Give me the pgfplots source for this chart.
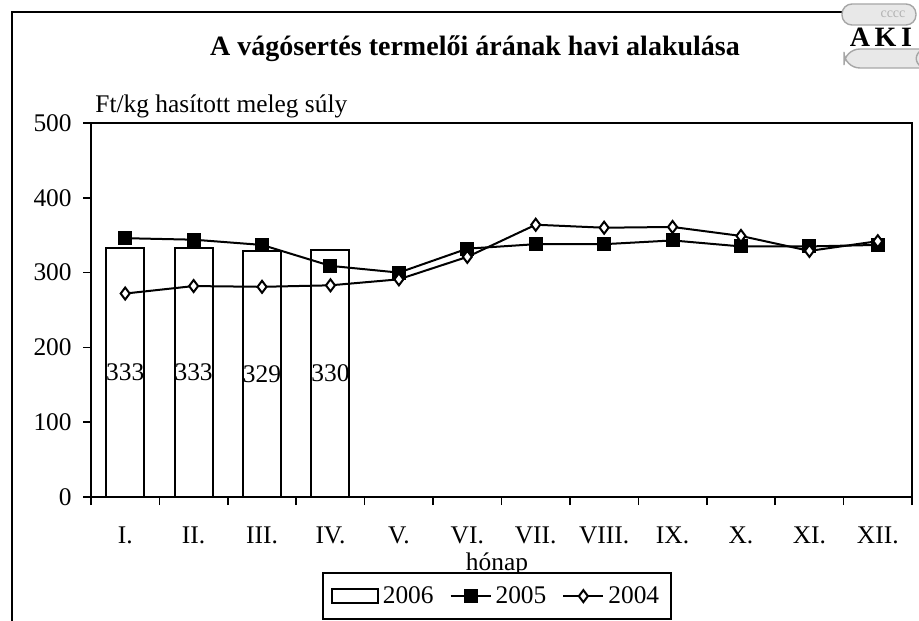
\documentclass[border=0pt]{standalone}
\usepackage{fontspec}
\setmainfont{Liberation Serif}
\usepackage{pgfplots}
\pgfplotsset{compat=1.18}
\pgfplotsset{
  short line legend/.style={legend image code/.code={%
    \draw[mark repeat=2, mark phase=2, ##1] plot coordinates {(0bp,0bp) (10bp,0bp) (20bp,0bp)};}},
  box legend/.style={legend image code/.code={%
    \draw[line width=1bp, fill=white] (0bp,-3.5bp) rectangle (23bp,3.5bp);}},
}

\newcommand{\txt}{\fontsize{12.7bp}{14.5bp}\selectfont}

\begin{document}
\begin{tikzpicture}
\useasboundingbox (0,0) rectangle (459.5bp,310.5bp);
\fill[white] (0,0) rectangle (459.5bp,310.5bp);
% outer frame (cut off at right and bottom)
\draw[line width=1.2bp] (6bp,-5bp) -- (6bp,304.5bp) -- (421bp,304.5bp);

% logo, in pixel units
\begin{scope}[shift={(0,310.5bp)}, x=0.5bp, y=-0.5bp]
  \draw[gray!70, fill=gray!18, line width=0.7bp, rounded corners=5bp]
    (842,4) -- (916,4) -- (916,25) -- (842,25) -- cycle;
  \node[gray!60, font=\fontsize{7bp}{7bp}\selectfont] at (893,14) {cccc};
  \node[font=\fontsize{14bp}{14bp}\selectfont\bfseries] at (881,37) {A\,K\,I};
  \draw[gray!70, fill=gray!18, line width=0.7bp, rounded corners=8bp]
    (930,49) -- (844,49) -- (844,68) -- (930,68);
  \draw[gray!70, line width=0.7bp] (923,49) .. controls (914,54) and (914,63) .. (923,68);
\end{scope}

\node[anchor=base, font=\fontsize{14bp}{16bp}\selectfont\bfseries]
  at (237.5bp,282.75bp) {A vágósertés termelői árának havi alakulása};
\node[anchor=base west, font=\txt, inner sep=0pt]
  at (47.5bp,254bp) {Ft/kg hasított meleg súly};

\begin{axis}[
  at={(45.5bp,62bp)}, anchor=south west,
  scale only axis, width=410.5bp, height=187bp,
  xmin=-0.5, xmax=11.5, ymin=0, ymax=500,
  xtick={0,...,11},
  xticklabels={I.,II.,III.,IV.,V.,VI.,VII.,VIII.,IX.,X.,XI.,XII.},
  minor xtick={-0.5,0.5,...,11.5},
  ytick={0,100,...,500},
  tick pos=left, tick align=outside,
  major tick length=4bp, minor tick length=4bp,
  tick style={black, line width=0.8bp},
  major x tick style={draw=none},
  axis line style={line width=1bp},
  xticklabel style={anchor=base, yshift=-19bp, font=\txt},
  yticklabel style={anchor=east, inner sep=0pt, xshift=-5.5bp, font=\txt},
  /pgf/number format/assume math mode=true,
  xlabel={hónap},
  xlabel style={at={(axis description cs:0.4945,0)}, anchor=base, yshift=-36.5bp, font=\txt},
  legend columns=3,
  legend style={at={(0.4945,-0.265)}, anchor=center, draw=black, line width=1bp,
    font=\txt, inner xsep=4bp, inner ysep=4.5bp,
    /tikz/every even column/.append style={column sep=6bp}},
]
\addplot[ybar, bar width=19bp, bar shift=0pt, fill=white, draw=black, line width=1bp,
  nodes near coords,
  visualization depends on={rawy \as \ry},
  every node near coord/.append style={anchor=center, yshift=-\ry*0.187bp, font=\txt, text=black},
  box legend]
  coordinates {(0,333) (1,333) (2,329) (3,330)};
\addlegendentry{2006}

\addplot[black, line width=1bp, mark=square*, mark size=3bp, mark options={solid, fill=black},
  short line legend]
  coordinates {(0,346) (1,344) (2,337) (3,309) (4,300) (5,332)
               (6,338) (7,338) (8,343) (9,335) (10,335) (11,337)};
\addlegendentry{2005}

\addplot[black, line width=1bp, mark=diamond*, mark size=3bp, mark options={solid, fill=white},
  short line legend]
  coordinates {(0,272) (1,282) (2,281) (3,283) (4,291) (5,321)
               (6,364) (7,360) (8,361) (9,349) (10,329) (11,342)};
\addlegendentry{2004}
\end{axis}
\end{tikzpicture}
\end{document}
